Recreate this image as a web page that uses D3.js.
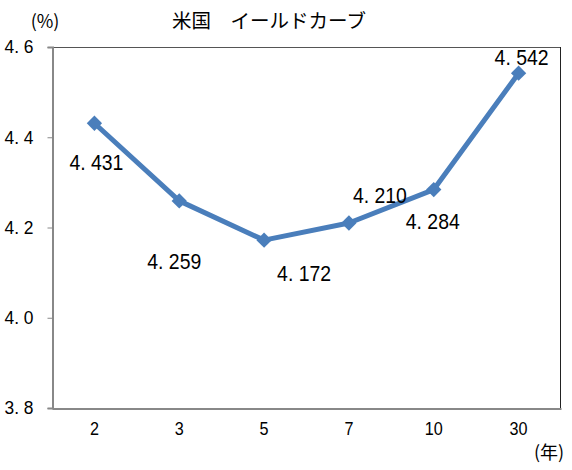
<!DOCTYPE html>
<html><head><meta charset="utf-8">
<script src="https://cdn.jsdelivr.net/npm/d3@7"></script>
<style>body{margin:0;background:#fff}svg{display:block}text{font-family:"Noto Sans CJK JP","Noto Sans",sans-serif;fill:#000}
.num{font-family:"Liberation Sans",Arial,sans-serif}</style>
</head><body><div id="c"></div>
<script>
const categories = ["2","3","5","7","10","30"];
const yields = [4.431, 4.259, 4.172, 4.210, 4.284, 4.542];
const labels = ["4.431","4.259","4.172","4.210","4.284","4.542"];
const yTicks = [3.8, 4.0, 4.2, 4.4, 4.6];
const title = "米国　イールドカーブ";
const yUnit = "(%)";
const xUnit = "(年)";

const W = 572, H = 470;
const m = {l:52, r:11, t:47, b:62};
const svg = d3.select("#c").append("svg").attr("width",W).attr("height",H);
const x = d3.scaleBand().domain(categories).range([m.l, W-m.r]);
const y = d3.scaleLinear().domain([3.8,4.6]).range([H-m.b, m.t]);

// frame
svg.append("line").attr("x1",m.l).attr("x2",W-m.r).attr("y1",m.t+0.5).attr("y2",m.t+0.5).attr("stroke","#555");
svg.append("line").attr("x1",W-m.r-0.5).attr("x2",W-m.r-0.5).attr("y1",m.t).attr("y2",H-m.b).attr("stroke","#222");

const ya = svg.append("g").attr("transform",`translate(${m.l+0.5},0)`)
  .call(d3.axisLeft(y).tickValues(yTicks).tickSize(5).tickPadding(14).tickFormat(d=>d3.format(".1f")(d).replace(".",". ")));
ya.select(".domain").attr("stroke","#888").attr("stroke-width",2);
ya.selectAll(".tick line").attr("stroke","#888");
ya.selectAll("text").attr("class","num").attr("font-size",18).attr("font-family",null).attr("fill","#000")
  .attr("textLength",29).attr("lengthAdjust","spacingAndGlyphs");

const xa = svg.append("g").attr("transform",`translate(0,${H-m.b+0.5})`)
  .call(d3.axisBottom(x).tickSize(0).tickPadding(14));
xa.select(".domain").attr("stroke","#888").attr("stroke-width",2);
xa.selectAll("text").attr("class","num").attr("font-size",18).attr("font-family",null).attr("fill","#000")
  .attr("textLength",d=>d.length*9).attr("lengthAdjust","spacingAndGlyphs");

const pts = categories.map((c,i)=>({c, v:yields[i], l:labels[i]}));
svg.append("path").datum(pts)
  .attr("d", d3.line().x(d=>x(d.c)+x.bandwidth()/2).y(d=>y(d.v)))
  .attr("fill","none").attr("stroke","#4a7ebb").attr("stroke-width",5).attr("stroke-linejoin","round");
svg.selectAll(".mk").data(pts).join("path").attr("class","mk")
  .attr("transform",d=>`translate(${x(d.c)+x.bandwidth()/2},${y(d.v)})`)
  .attr("d", d3.symbol(d3.symbolDiamond2 || d3.symbolDiamond, 150)())
  .attr("fill","#4a7ebb");

// data labels (offsets relative to point)
const offs = [[2,47],[-5,68],[40,41],[31,-20],[-1,39],[3,-8]];
svg.selectAll(".dl").data(pts).join("text").attr("class","dl num")
  .attr("x",(d,i)=>x(d.c)+x.bandwidth()/2+offs[i][0]-27)
  .attr("y",(d,i)=>y(d.v)+offs[i][1])
  .attr("font-size",22).attr("textLength",54).attr("lengthAdjust","spacingAndGlyphs")
  .text(d=>d.l.replace(".",". "));

svg.append("text").attr("x",269).attr("y",28).attr("text-anchor","middle").attr("font-size",19.5).text(title);
svg.append("text").attr("x",45).attr("y",28).attr("text-anchor","middle").attr("font-size",18).text(yUnit);
svg.append("text").attr("x",549).attr("y",459).attr("text-anchor","middle").attr("font-size",18).text(xUnit);
</script></body></html>
